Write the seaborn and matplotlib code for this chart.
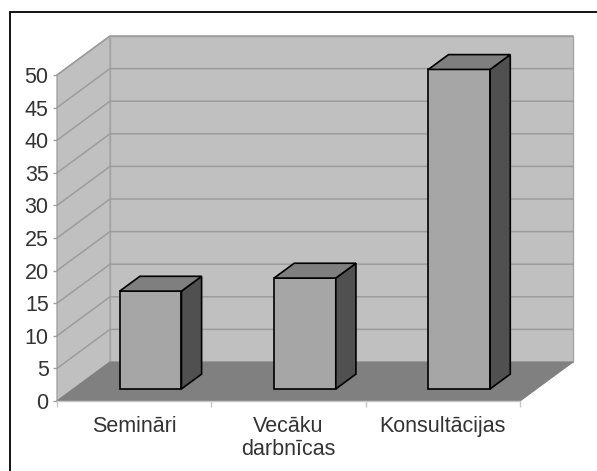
import matplotlib
matplotlib.use("Agg")
import matplotlib.pyplot as plt
import matplotlib.transforms as mtransforms
from matplotlib.patches import Polygon, Rectangle
import seaborn as sns

# Chart data
categories = ["Semināri", "Vecāku\ndarbnīcas", "Konsultācijas"]
values = [15, 17, 49]
y_ticks = list(range(0, 51, 5))

sns.set_style("white")
plt.rcParams["font.family"] = ["Liberation Sans", "DejaVu Sans"]

W, H, DPI = 597, 471, 100
fig = plt.figure(figsize=(W / DPI, H / DPI), dpi=DPI)

# Front plane of the 3-D box (pixel geometry of the axes)
left_px, right_px, bottom_px, top_px = 57, 520, 401, 75
ax = fig.add_axes([left_px / W, (H - bottom_px) / H,
                   (right_px - left_px) / W, (bottom_px - top_px) / H])
ax.patch.set_visible(False)

# Depth vector of the box (pixels, to the right and upwards)
DEPTH_X, DEPTH_Y = 53, 39
YMAX = 50
ncat = len(categories)

sns.barplot(x=categories, y=values, width=0.4, color="#a6a6a6",
            edgecolor="black", linewidth=1.2, saturation=1, ax=ax, zorder=3)
bars = list(ax.patches)

ax.set_xlim(-0.5, ncat - 0.5)
ax.set_ylim(0, YMAX)

# depth expressed in data units
DX = DEPTH_X / ((right_px - left_px) / ncat)
DY = DEPTH_Y / ((bottom_px - top_px) / YMAX)

wall_c, wall_edge = "#c0c0c0", "#a4a4a4"
x0w, x1w = -0.5, ncat - 0.5

# back wall
ax.add_patch(Rectangle((x0w + DX, DY), ncat, YMAX, facecolor=wall_c,
                       edgecolor=wall_edge, lw=1, clip_on=False, zorder=0.5))
# side wall
ax.add_patch(Polygon([(x0w, 0), (x0w + DX, DY), (x0w + DX, YMAX + DY), (x0w, YMAX)],
                     closed=True, facecolor=wall_c, edgecolor=wall_edge, lw=1,
                     clip_on=False, zorder=0.5))
# gridlines across side and back walls
for v in y_ticks[1:]:
    ax.plot([x0w, x0w + DX, x1w + DX], [v, v + DY, v + DY], color="#9c9c9c",
            lw=1.1, clip_on=False, zorder=0.6)
# floor
ax.add_patch(Polygon([(x0w, 0), (x1w, 0), (x1w + DX, DY), (x0w + DX, DY)],
                     closed=True, facecolor="#808080", edgecolor="#808080", lw=0.8,
                     clip_on=False, zorder=0.7))

# 3-D bars: front face shifted into the box, plus top and side faces
f_front, f_depth = 0.31, 0.38
shift = mtransforms.ScaledTranslation(DEPTH_X * f_front / DPI, DEPTH_Y * f_front / DPI,
                                      fig.dpi_scale_trans)
tr = ax.transData + shift
dX, dY = DX * f_depth, DY * f_depth
for p in bars:
    p.set_transform(tr)
    p.set_clip_on(False)
    x, w, h = p.get_x(), p.get_width(), p.get_height()
    top = Polygon([(x, h), (x + w, h), (x + w + dX, h + dY), (x + dX, h + dY)],
                  closed=True, facecolor="#7f7f7f", edgecolor="black", lw=1.2,
                  transform=tr, clip_on=False, zorder=3)
    side = Polygon([(x + w, 0), (x + w + dX, dY), (x + w + dX, h + dY), (x + w, h)],
                   closed=True, facecolor="#505050", edgecolor="black", lw=1.2,
                   transform=tr, clip_on=False, zorder=3)
    ax.add_patch(side)
    ax.add_patch(top)

# axes styling
for s in ["top", "right", "left"]:
    ax.spines[s].set_visible(False)
ax.spines["bottom"].set_color("#c8c8c8")
ax.spines["bottom"].set_linewidth(1)
ax.spines["bottom"].set_zorder(0.8)

ax.set_yticks(y_ticks)
ax.tick_params(axis="y", left=True, length=3, width=1, color="#a0a0a0",
               pad=3, labelsize=15.5, labelcolor="#333333")
ax.set_xticks(range(ncat))
ax.set_xticklabels(categories, linespacing=1.1)
ax.tick_params(axis="x", bottom=True, length=0, pad=11, labelsize=15.5,
               labelcolor="#333333")
ax.set_xticks([i - 0.5 for i in range(ncat + 1)], minor=True)
ax.tick_params(axis="x", which="minor", bottom=True, length=4, width=1,
               color="#c8c8c8")
ax.set_xlabel("")
ax.set_ylabel("")

# frame around the chart area
fig.add_artist(Rectangle((10 / W, -0.05), 1.2, (H - 12) / H + 0.05,
                         transform=fig.transFigure, fill=False,
                         edgecolor="black", lw=1.3))

fig.savefig("out.png", dpi=DPI)
